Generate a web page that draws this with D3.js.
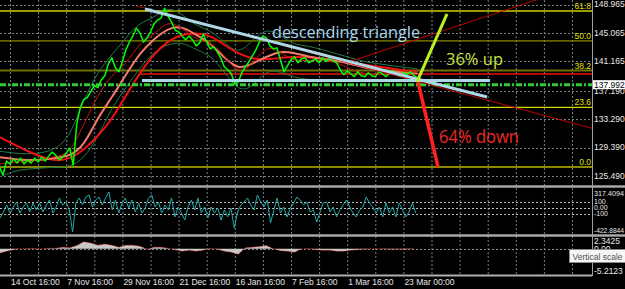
<!DOCTYPE html>
<html><head><meta charset="utf-8">
<script src="https://cdn.jsdelivr.net/npm/d3@7"></script>
<style>html,body{margin:0;padding:0;background:#000;overflow:hidden}svg{display:block}</style>
</head><body>
<svg id="chart" width="625" height="289"></svg>
<script>
// ---------------- DATA ----------------
const timeLabels = ["14 Oct 16:00","7 Nov 16:00","29 Nov 16:00","21 Dec 16:00","16 Jan 16:00","7 Feb 16:00","1 Mar 16:00","23 Mar 00:00"];
const timeLabelBars = [0,96,192,288,384,480,576,672];
const gridBars = d3.range(0, 961, 48);
const priceTicks = [148.965,145.065,141.165,137.190,133.290,129.390,125.490];
const currentPrice = 137.992;

// closes, one point per trading day (6 bars of 4h), first at bar -18
const priceFirstBar = -18, priceStepBars = 6;
const price = [126.72,125.63,127.53,127.13,127.81,127.26,127.94,127.13,127.67,127.26,
127.94,127.40,128.08,127.53,128.21,128.76,128.35,127.67,128.08,128.62,
129.30,126.99,132.56,134.87,135.96,136.23,137.05,137.86,137.59,138.68,
139.22,140.85,141.67,140.31,139.77,141.12,142.76,143.84,144.66,145.74,
145.07,143.84,144.39,145.20,146.29,146.83,147.10,148.46,147.37,146.56,
145.47,145.20,144.66,144.11,144.66,144.11,143.30,143.71,144.93,143.84,
142.89,143.16,142.48,141.67,140.45,140.04,139.49,138.13,138.40,139.63,
140.45,141.12,141.94,142.76,143.84,144.66,144.39,143.30,142.89,143.03,
141.40,139.77,140.58,141.40,141.80,140.99,141.53,141.67,140.99,141.26,
141.53,140.99,141.67,141.12,141.67,141.26,140.99,140.04,139.36,139.90,
139.49,139.09,139.77,139.22,139.09,139.63,139.22,139.09,139.77,139.49,
139.09,139.63,139.90,139.36,139.09,139.63,139.36,139.77,139.22,138.95];

// indicator readings at these day indices
const indDays = [0,4,8,12,16,20,24,28,32,36,40,44,48,52,56,60,64,68,72,76,80,84,88,92,96,100,104,108,112,116,119];
const maSlow = [130.80,129.84,128.89,128.08,127.53,127.81,129.03,130.93,133.24,136.50,139.63,142.21,143.98,144.93,145.07,144.79,143.43,142.21,141.53,141.40,141.67,141.80,141.80,141.53,141.26,140.99,140.72,140.45,140.18,139.90,139.77];
const maMid = [128.08,127.81,127.67,127.67,127.94,128.21,129.57,133.51,136.23,139.36,142.35,144.25,145.74,146.02,144.79,143.71,141.67,140.04,140.85,141.80,142.62,142.35,141.80,141.53,141.26,140.85,140.31,140.04,139.77,139.63,139.49];
const maFast = [127.13,127.40,127.40,127.67,128.21,128.49,132.56,136.64,139.36,140.72,143.84,144.79,146.83,145.74,144.11,143.84,142.08,139.36,140.72,143.43,142.48,141.12,141.40,141.26,141.12,140.04,139.49,139.36,139.49,139.49,139.36];
const bandUpper = [128.89,128.62,128.49,128.62,129.17,130.80,135.96,139.77,142.08,144.39,146.56,147.10,148.73,147.65,146.02,145.47,143.84,142.08,144.11,145.74,144.79,143.43,143.30,142.76,142.21,141.67,141.12,140.85,140.58,140.31,140.18];
const bandLower = [125.36,126.17,126.45,126.58,126.72,126.72,127.81,130.80,134.87,137.59,140.31,142.48,143.57,143.84,142.76,142.08,139.77,137.05,137.59,140.04,139.77,138.95,138.68,138.68,138.68,138.41,138.41,138.54,138.68,138.68,138.68];

// Fibonacci retracement
const fibLevels = [0, 23.6, 38.2, 50.0, 61.8];
const fibLabels = ["0.0","23.6","38.2","50.0","61.8"];
const fibColors = ["#b8b800","#d8d800","#707000","#8a8a00","#d0d000"];
const fibLow = 126.72, fibHigh = 161.28;

// CCI
const cciFirstBar = -17, cciLastBar = 693;
const cci = [-168,-69,46,-86,13,95,-86,13,79,-69,79,-36,79,-69,46,128,-86,13,161,46,95,-36,-398,79,161,46,178,211,13,128,178,46,161,260,-36,128,-86,79,161,-3,128,-69,79,-86,-3,161,211,13,95,-86,46,-36,161,-151,13,-86,-201,13,128,-36,161,-86,13,-168,13,-86,-3,-201,-36,-151,-3,-333,-69,46,95,161,46,-36,211,95,13,128,-250,-36,161,-86,13,-151,-3,79,178,128,46,95,-69,-36,-234,-69,79,95,-69,13,-151,-36,46,128,13,-86,-151,-36,13,178,79,13,-86,13,-151,79,-86,13,-151,79,-36,-151,-69,79,-86];
const cciLevels = [100, 0, -100];
const cciLabels = [["317.4094",317.4094],["100",100],["0.00",0],["-100",-100],["-422.8844",-422.8844]];

// OsMA histogram, one value per 2 days
const macdFirstBar = -18, macdStepBars = 12;
const macd = [-0.96,-0.53,-0.21,-0.04,0.04,0.04,0.0,0.11,0.11,0.32,0.21,0.64,1.45,1.17,0.74,0.96,0.74,0.32,0.74,0.74,0.53,-0.11,0.32,0.32,0.11,-0.21,-0.53,-0.32,-0.53,-0.32,0.11,-0.11,-0.53,-0.74,-1.17,0.21,0.32,0.43,0.64,0.0,-0.43,-0.53,-0.74,0.0,0.04,-0.21,-0.32,-0.32,-0.53,-0.53,-0.32,-0.21,-0.11,0.0,0.0,-0.11,-0.11,-0.11,-0.11,-0.06];
const macdLabels = [["2.3425",2.3425],["0.00",0],["-5.2123",-5.2123]];

// drawn objects [bar, price]
const triTop = [[230.6,148.35],[814.8,136.30]];
const triTopRay = [[216.8,148.75],[994.2,132.02]];
const triBase = [[225.5,138.56],[820.0,138.56]];
const upTrend = [[580.8,141.16],[950.0,150.95]];
const supportRed = [[222.0,139.45],[994.2,139.45]];
const upMove = [[695.2,138.36],[746.5,147.67]];
const downMove = [[696.9,138.36],[731.1,126.72]];

// ---------------- CHART ----------------
const W = 625, AX = 592;
const svg = d3.select("#chart");
svg.append("rect").attr("width",W).attr("height",289).attr("fill","#000");

const x = d3.scaleLinear().domain([0,672]).range([10,403.4]);
const y = d3.scaleLinear().domain([124.12,149.582]).range([186,0]);
const yc = d3.scaleLinear().domain([-422.8844,317.4094]).range([233.5,188.5]);
const ym = d3.scaleLinear().domain([-5.2123,2.3425]).range([273.5,237.5]);

const defs = svg.append("defs");
defs.append("clipPath").attr("id","cm").append("rect").attr("x",0).attr("y",0).attr("width",AX).attr("height",185.5);
defs.append("clipPath").attr("id","cc").append("rect").attr("x",0).attr("y",188).attr("width",AX).attr("height",46);
defs.append("clipPath").attr("id","cd").append("rect").attr("x",0).attr("y",237).attr("width",AX).attr("height",37);

const gridColor = "#76808c";
svg.append("g").selectAll("line").data(gridBars).join("line")
  .attr("x1",d=>x(d)+0.5).attr("x2",d=>x(d)+0.5).attr("y1",0).attr("y2",275)
  .attr("stroke",gridColor).attr("stroke-width",1).attr("stroke-dasharray","2,2");
svg.append("g").selectAll("line").data(priceTicks).join("line")
  .attr("x1",0).attr("x2",AX).attr("y1",d=>Math.round(y(d))+0.5).attr("y2",d=>Math.round(y(d))+0.5)
  .attr("stroke",gridColor).attr("stroke-dasharray","2,2");

const main = svg.append("g").attr("clip-path","url(#cm)");
const fibPrice = l => fibLow + (fibHigh-fibLow)*l/100;
main.selectAll("line.fib").data(fibLevels).join("line").attr("class","fib")
  .attr("x1",0).attr("x2",AX).attr("y1",d=>y(fibPrice(d))).attr("y2",d=>y(fibPrice(d)))
  .attr("stroke",(d,i)=>fibColors[i]).attr("stroke-width",(d,i)=>i===2?2:1.3);

const seg = (g, pts, color, w, dash) => g.append("line")
  .attr("x1",x(pts[0][0])).attr("y1",y(pts[0][1])).attr("x2",x(pts[1][0])).attr("y2",y(pts[1][1]))
  .attr("stroke",color).attr("stroke-width",w).attr("stroke-linecap","butt").attr("stroke-dasharray",dash||null);

seg(main, supportRed, "#e81010", 1.5);

const indX = i => x(priceFirstBar + priceStepBars*indDays[i]);
const smooth = d3.line().x((d,i)=>indX(i)).y(d=>y(d)).curve(d3.curveBasis);
main.append("path").attr("d",smooth(bandUpper)).attr("fill","none").attr("stroke","#237a44").attr("stroke-width",1);
main.append("path").attr("d",smooth(bandLower)).attr("fill","none").attr("stroke","#237a44").attr("stroke-width",1);
main.append("path").attr("d",smooth(maSlow)).attr("fill","none").attr("stroke","#f01010").attr("stroke-width",2);
main.append("path").attr("d",smooth(maMid)).attr("fill","none").attr("stroke","#f47a68").attr("stroke-width",2);
main.append("path").attr("d",smooth(maFast)).attr("fill","none").attr("stroke","#d01010").attr("stroke-width",1);

const pline = d3.line().x((d,i)=>x(priceFirstBar+priceStepBars*i)).y(d=>y(d));
main.append("path").attr("d",pline(price)).attr("fill","none").attr("stroke","#00ff00").attr("stroke-width",1.5).attr("stroke-linejoin","round");

main.append("line").attr("x1",0).attr("x2",AX).attr("y1",y(currentPrice)).attr("y2",y(currentPrice))
  .attr("stroke","#33cc33").attr("stroke-width",3).attr("stroke-dasharray","6,2,2,2");

seg(main, triTopRay, "#c00000", 1);
seg(main, upTrend, "#c00000", 1);
seg(main, triTop, "#add8e6", 3);
seg(main, triBase, "#add8e6", 3);
seg(main, upMove, "#b8f020", 3);
seg(main, downMove, "#ff2020", 3.5);

const annot = (t, xx, yy, col, size, len) => svg.append("text").text(t).attr("x",xx).attr("y",yy)
  .attr("fill",col).attr("font-family","'Open Sans','Liberation Sans',sans-serif").attr("font-size",size)
  .attr("textLength",len).attr("lengthAdjust","spacingAndGlyphs");
annot("descending triangle", 272, 38, "#a8d8ec", 17, 148);
annot("36% up", 446, 65, "#c8e040", 17, 57);
annot("64% down", 439, 143, "#f02828", 18, 80);

svg.append("g").selectAll("text").data(fibLevels).join("text")
  .attr("x",591).attr("y",d=>y(fibPrice(d))-2).attr("text-anchor","end")
  .attr("fill","#e0e000").attr("font-family","'Liberation Sans',sans-serif").attr("font-size",8.5)
  .text((d,i)=>fibLabels[i]);

// ---- CCI panel
const cp = svg.append("g").attr("clip-path","url(#cc)");
cp.selectAll("line").data(cciLevels).join("line")
  .attr("x1",0).attr("x2",AX).attr("y1",d=>Math.round(yc(d))+0.5).attr("y2",d=>Math.round(yc(d))+0.5)
  .attr("stroke","#c0c0c0").attr("stroke-dasharray","2,2");
const cciStep = (cciLastBar-cciFirstBar)/(cci.length-1);
cp.append("path").attr("d",d3.line().x((d,i)=>x(cciFirstBar+cciStep*i)).y(d=>yc(d))(cci))
  .attr("fill","none").attr("stroke","#22a8a8").attr("stroke-width",1);

// ---- OsMA panel
const mp = svg.append("g").attr("clip-path","url(#cd)");
mp.append("line").attr("x1",0).attr("x2",AX).attr("y1",Math.round(ym(0))+0.5).attr("y2",Math.round(ym(0))+0.5)
  .attr("stroke","#909090").attr("stroke-dasharray","2,2");
const mx = i => x(macdFirstBar+macdStepBars*i);
mp.append("path").attr("d",d3.area().x((d,i)=>mx(i)).y0(ym(0)).y1(d=>ym(d))(macd)).attr("fill","#c8c8c8");
mp.append("path").attr("d",d3.line().x((d,i)=>mx(i)).y(d=>ym(d))(macd)).attr("fill","none")
  .attr("stroke","#ff2020").attr("stroke-width",1).attr("stroke-dasharray","1,2");

// separators & axis
[186.5,235.5].forEach(v=>svg.append("line").attr("x1",0).attr("x2",W).attr("y1",v).attr("y2",v).attr("stroke","#a8a8a8").attr("stroke-width",2.5));
svg.append("line").attr("x1",0).attr("x2",AX).attr("y1",275.5).attr("y2",275.5).attr("stroke","#b0b0b0").attr("stroke-width",2);
svg.append("line").attr("x1",AX+0.5).attr("x2",AX+0.5).attr("y1",0).attr("y2",276).attr("stroke","#a0a0a0").attr("stroke-width",1);

const lab = {fill:"#e8e8e8", ff:"'Liberation Sans',sans-serif", fs:8.5};
svg.append("g").selectAll("text").data(priceTicks).join("text")
  .attr("x",594).attr("y",d=> d===137.190 ? y(d)+1 : y(d)).attr("dy","0.35em").attr("fill",lab.fill)
  .attr("font-family",lab.ff).attr("font-size",lab.fs).text(d=>d.toFixed(3));
svg.append("rect").attr("x",593).attr("y",y(currentPrice)-4.5).attr("width",32).attr("height",9).attr("fill","#ffffff");
svg.append("text").attr("x",594).attr("y",y(currentPrice)).attr("dy","0.35em").attr("fill","#000")
  .attr("font-family",lab.ff).attr("font-size",lab.fs).text(currentPrice.toFixed(3));

svg.append("g").selectAll("text").data(cciLabels).join("text")
  .attr("x",594).attr("y",(d,i)=> i===0 ? 193 : i===4 ? 230 : yc(d[1])).attr("dy","0.35em")
  .attr("fill",lab.fill).attr("font-family",lab.ff).attr("font-size",(d,i)=> (i===0||i===4) ? 7.8 : 7)
  .attr("textLength",(d,i)=> i===0 ? 30 : i===4 ? 30 : null).attr("lengthAdjust","spacingAndGlyphs")
  .text(d=>d[0]);
svg.append("g").selectAll("text").data(macdLabels).join("text")
  .attr("x",594).attr("y",(d,i)=> i===0 ? 241.5 : i===2 ? 271.5 : ym(d[1])).attr("dy","0.35em")
  .attr("fill",lab.fill).attr("font-family",lab.ff).attr("font-size",lab.fs).text(d=>d[0]);

svg.append("g").selectAll("text").data(timeLabels).join("text")
  .attr("x",(d,i)=>x(timeLabelBars[i])+1).attr("y",285)
  .attr("fill",lab.fill).attr("font-family",lab.ff).attr("font-size",lab.fs).text(d=>d);

// tooltip
svg.append("rect").attr("x",569.5).attr("y",249.5).attr("width",60).attr("height",13).attr("fill","#f6f6f6").attr("stroke","#8a8a8a");
svg.append("text").attr("x",572.5).attr("y",259.5).attr("fill","#505050").attr("font-family",lab.ff).attr("font-size",8.5)
  .attr("textLength",50).attr("lengthAdjust","spacingAndGlyphs").text("Vertical scale");
</script>
</body></html>
